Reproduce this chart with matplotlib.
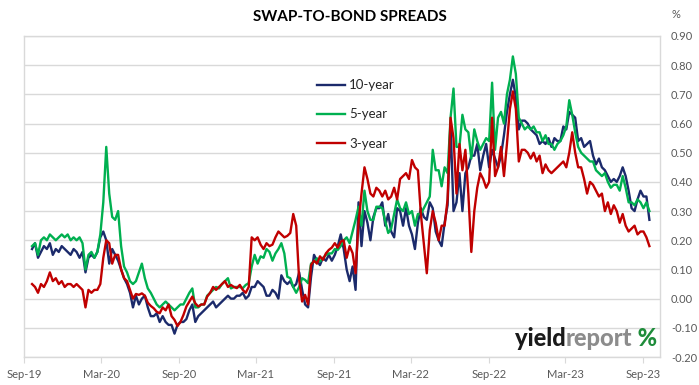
import matplotlib

matplotlib.use("Agg", force=True)

import matplotlib.pyplot as plt
import matplotlib.dates as mdates
from matplotlib.transforms import IdentityTransform
import pandas as pd

# weekly readings, first point 20 Sep 2019
START = "2019-09-20"

ten_year = [
    0.17, 0.19, 0.14, 0.16, 0.18, 0.17, 0.19, 0.15, 0.17, 0.16,
    0.18, 0.17, 0.16, 0.15, 0.17, 0.16, 0.14, 0.16, 0.09, 0.14,
    0.15, 0.14, 0.16, 0.21, 0.23, 0.20, 0.12, 0.17, 0.15, 0.13,
    0.10, 0.07, 0.05, 0.02, -0.03, 0.01, -0.02, 0.00, 0.01, -0.03,
    -0.06, -0.06, -0.05, -0.08, -0.06, -0.08, -0.09, -0.09, -0.12, -0.09,
    -0.08, -0.08, -0.07, -0.04, -0.02, -0.08, -0.06, -0.05, -0.04, -0.03,
    -0.02, -0.01, -0.03, -0.02, -0.01, 0.00, 0.01, 0.00, 0.00, 0.01,
    0.01, 0.02, 0.00, 0.01, 0.04, 0.04, 0.06, 0.05, 0.04, 0.01,
    0.01, 0.03, 0.02, 0.00, 0.08, 0.06, 0.05, 0.06, 0.04, 0.05,
    0.09, 0.03, -0.02, -0.03, 0.075, 0.15, 0.13, 0.115, 0.14, 0.13,
    0.15, 0.13, 0.15, 0.18, 0.22, 0.17, 0.10, 0.06, 0.11, 0.03,
    0.33, 0.18, 0.30, 0.26, 0.20, 0.28, 0.31, 0.31, 0.33, 0.25,
    0.29, 0.23, 0.21, 0.31, 0.30, 0.25, 0.31, 0.25, 0.22, 0.17,
    0.26, 0.31, 0.28, 0.27, 0.33, 0.31, 0.23, 0.20, 0.18, 0.26,
    0.32, 0.60, 0.30, 0.33, 0.43, 0.30, 0.43, 0.45, 0.49, 0.49,
    0.53, 0.44, 0.49, 0.53, 0.45, 0.51, 0.48, 0.45, 0.49, 0.56,
    0.64, 0.70, 0.75, 0.69, 0.58, 0.61, 0.61, 0.60, 0.58, 0.57,
    0.56, 0.53, 0.54, 0.53, 0.55, 0.52, 0.55, 0.54, 0.54, 0.59,
    0.58, 0.64, 0.63, 0.62, 0.54, 0.55, 0.52, 0.53, 0.54, 0.49,
    0.46, 0.48, 0.45, 0.44, 0.42, 0.40, 0.41, 0.40, 0.42, 0.45,
    0.42, 0.37, 0.31, 0.30, 0.34, 0.37, 0.35, 0.35, 0.27,
]

five_year = [
    0.18, 0.19, 0.15, 0.20, 0.21, 0.20, 0.22, 0.21, 0.20, 0.21,
    0.22, 0.21, 0.22, 0.20, 0.21, 0.20, 0.21, 0.19, 0.10, 0.15,
    0.16, 0.14, 0.16, 0.22, 0.33, 0.52, 0.36, 0.28, 0.27, 0.30,
    0.18, 0.11, 0.09, 0.06, 0.05, 0.06, 0.09, 0.12, 0.07, 0.035,
    0.02, 0.00, -0.02, -0.03, -0.02, -0.01, -0.02, -0.03, -0.04, -0.03,
    -0.02, -0.02, 0.00, 0.02, 0.035, -0.03, -0.03, -0.02, -0.02, 0.01,
    0.02, 0.03, 0.04, 0.035, 0.05, 0.06, 0.07, 0.035, 0.04, 0.04,
    0.04, 0.036, 0.047, 0.053, 0.11, 0.15, 0.12, 0.145, 0.14, 0.17,
    0.16, 0.13, 0.155, 0.17, 0.19, 0.155, 0.075, 0.07, 0.04, 0.02,
    0.04, 0.07, 0.064, 0.053, 0.12, 0.127, 0.138, 0.127, 0.138, 0.15,
    0.155, 0.155, 0.17, 0.167, 0.18, 0.20, 0.21, 0.19, 0.23, 0.27,
    0.315, 0.25, 0.37, 0.30, 0.27, 0.27, 0.315, 0.315, 0.31, 0.265,
    0.225, 0.24, 0.29, 0.34, 0.31, 0.30, 0.33, 0.29, 0.30, 0.25,
    0.29, 0.29, 0.31, 0.33, 0.35, 0.51, 0.44, 0.44, 0.385, 0.45,
    0.43, 0.62, 0.72, 0.52, 0.52, 0.63, 0.58, 0.57, 0.48, 0.58,
    0.54, 0.51, 0.53, 0.55, 0.54, 0.74, 0.51, 0.62, 0.64, 0.60,
    0.70, 0.75, 0.83, 0.77, 0.62, 0.60, 0.58, 0.59, 0.58, 0.59,
    0.57, 0.57, 0.54, 0.56, 0.53, 0.53, 0.51, 0.53, 0.54, 0.56,
    0.59, 0.68, 0.63, 0.57, 0.52, 0.50, 0.49, 0.48, 0.47, 0.47,
    0.44, 0.43, 0.42, 0.43, 0.40, 0.38, 0.39, 0.39, 0.37, 0.42,
    0.38, 0.33, 0.33, 0.32, 0.34, 0.33, 0.31, 0.33, 0.30,
]

three_year = [
    0.05, 0.04, 0.02, 0.05, 0.04, 0.06, 0.09, 0.06, 0.07, 0.05,
    0.06, 0.04, 0.05, 0.05, 0.04, 0.05, 0.04, 0.03, -0.03, 0.03,
    0.02, 0.03, 0.03, 0.05, 0.14, 0.20, 0.19, 0.12, 0.15, 0.15,
    0.10, 0.07, 0.06, 0.03, 0.00, 0.016, 0.013, 0.018, 0.01, -0.014,
    -0.025, -0.033, -0.045, -0.05, -0.03, -0.04, -0.02, -0.06, -0.073, -0.094,
    -0.08, -0.056, -0.027, -0.01, 0.007, -0.016, -0.027, -0.02, -0.02, 0.007,
    0.02, 0.04, 0.03, 0.04, 0.05, 0.06, 0.04, 0.047, 0.04, 0.036,
    0.047, 0.03, 0.02, 0.04, 0.21, 0.20, 0.21, 0.185, 0.17, 0.19,
    0.18, 0.185, 0.21, 0.23, 0.22, 0.21, 0.215, 0.225, 0.29, 0.25,
    0.064, -0.01, 0.013, -0.02, 0.115, 0.13, 0.12, 0.145, 0.133, 0.155,
    0.167, 0.175, 0.19, 0.175, 0.195, 0.20, 0.14, 0.18, 0.156, 0.087,
    0.26, 0.36, 0.45, 0.41, 0.36, 0.35, 0.38, 0.37, 0.35, 0.37,
    0.34, 0.35, 0.38, 0.34, 0.41, 0.42, 0.43, 0.41, 0.475, 0.45,
    0.44, 0.29, 0.19, 0.087, 0.235, 0.30, 0.26, 0.20, 0.25, 0.25,
    0.34, 0.62, 0.55, 0.36, 0.53, 0.44, 0.51, 0.36, 0.16, 0.30,
    0.38, 0.43, 0.41, 0.38, 0.40, 0.62, 0.42, 0.45, 0.52, 0.42,
    0.53, 0.65, 0.71, 0.65, 0.47, 0.51, 0.51, 0.50, 0.48, 0.50,
    0.47, 0.49, 0.43, 0.46, 0.44, 0.43, 0.44, 0.45, 0.46, 0.47,
    0.45, 0.50, 0.57, 0.50, 0.45, 0.45, 0.41, 0.36, 0.40, 0.39,
    0.37, 0.35, 0.36, 0.30, 0.33, 0.29, 0.32, 0.30, 0.26, 0.29,
    0.25, 0.23, 0.24, 0.25, 0.22, 0.23, 0.23, 0.21, 0.18,
]

series_labels = ["10-year", "5-year", "3-year"]
series_colors = ["#1b2a6b", "#00b050", "#c00000"]
y_ticks = [-0.20, -0.10, 0.00, 0.10, 0.20, 0.30, 0.40, 0.50, 0.60, 0.70, 0.80, 0.90]

dates = pd.date_range(START, periods=len(ten_year), freq="7D")
x_ticks = pd.date_range("2019-09-01", "2023-09-01", freq="6MS")

plt.rcParams["font.family"] = ["Lato", "DejaVu Sans"]
GRAY_TXT = "#595959"
GRID = "#d9d9d9"

fig = plt.figure(figsize=(6.99, 3.85), dpi=100)
ax = fig.add_axes([24 / 699, 1 - 357 / 385, 636 / 699, 321 / 385])

for vals, lab, col in zip([ten_year, five_year, three_year], series_labels, series_colors):
    ax.plot(dates, vals, color=col, linewidth=1.7, label=lab, zorder=3)

ax.set_ylim(-0.20, 0.90)
ax.set_xlim(pd.Timestamp("2019-09-01"), pd.Timestamp("2023-10-10"))
ax.set_yticks(y_ticks)
ax.set_yticklabels([f"{v:.2f}" for v in y_ticks])
ax.yaxis.tick_right()
ax.tick_params(axis="y", length=0, pad=8, labelsize=8, labelcolor=GRAY_TXT)
ax.set_xticks(x_ticks)
ax.xaxis.set_major_formatter(mdates.DateFormatter("%b-%y"))
ax.tick_params(axis="x", length=4, color=GRID, pad=5, labelsize=8, labelcolor=GRAY_TXT)
ax.grid(axis="y", color=GRID, linewidth=1.0, zorder=0)
for sp in ax.spines.values():
    sp.set_color(GRID)
    sp.set_linewidth(1.0)

leg = ax.legend(loc="upper left", bbox_to_anchor=((312 - 24) / 636, (357 - 74) / 321),
                frameon=False, fontsize=9.5, handlelength=2.1, labelspacing=1.3,
                handletextpad=0.3, borderaxespad=0)
for t in leg.get_texts():
    t.set_color("#262626")

fig.text(350 / 699, 1 - 17 / 385, "SWAP-TO-BOND SPREADS", ha="center", va="center",
         fontsize=11, fontweight="bold", color="black")
fig.text(676 / 699, 1 - 14 / 385, "%", ha="center", va="center", fontsize=8, color=GRAY_TXT)

# yieldreport logo
t1 = ax.text(515, 385 - 346, "yield", transform=IdentityTransform(), fontsize=17,
             fontweight="black", color="#1a1a1a", va="baseline", zorder=5)
t2 = ax.annotate("report", xycoords=t1, xy=(1, 0), va="bottom", fontsize=17,
                 fontweight="black", color="#8c8c8c", zorder=5)
t3 = ax.annotate(" %", xycoords=t2, xy=(1, 0), va="bottom", fontsize=17,
                 fontweight="black", color="#1e8c3a", zorder=5)

fig.savefig("out.png", dpi=100)
